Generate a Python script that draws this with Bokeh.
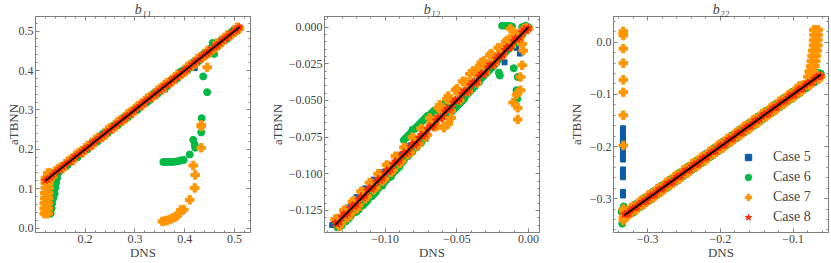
from bokeh.plotting import figure
from bokeh.layouts import row
from bokeh.models import (Range1d, LinearAxis, SingleIntervalTicker, CustomJSTickFormatter,
                          Legend, LegendItem)
from bokeh.embed import file_html
from bokeh.resources import INLINE

# ---------------- data: b11 ----------------
b11_dns = [0.120, 0.130, 0.140, 0.150, 0.160, 0.170, 0.180, 0.190, 0.200, 0.210, 0.220, 0.230, 0.240, 0.250,
           0.260, 0.270, 0.280, 0.290, 0.300, 0.310, 0.320, 0.330, 0.340, 0.350, 0.360, 0.370, 0.380, 0.390,
           0.400, 0.410, 0.420, 0.430, 0.440, 0.450, 0.460, 0.470, 0.480, 0.490, 0.500, 0.510]
b11_c8 = [0.121, 0.129, 0.141, 0.150, 0.161, 0.169, 0.181, 0.190, 0.201, 0.209, 0.221, 0.230, 0.241, 0.249,
          0.261, 0.270, 0.281, 0.289, 0.301, 0.310, 0.321, 0.329, 0.341, 0.350, 0.361, 0.369, 0.381, 0.390,
          0.401, 0.409, 0.421, 0.430, 0.441, 0.449, 0.461, 0.470, 0.481, 0.489, 0.501, 0.510]
b11_c6 = [0.118, 0.124, 0.137, 0.146, 0.155, 0.168, 0.178, 0.192, 0.198, 0.212, 0.217, 0.233, 0.244, 0.247,
          0.262, 0.267, 0.283, 0.287, 0.297, 0.307, 0.317, 0.325, 0.344, 0.346, 0.354, 0.373, 0.377, 0.396,
          0.404, 0.407, 0.424, 0.426, 0.445, 0.455, 0.468, 0.474, 0.478, 0.494, 0.505, 0.508]
b11_c7 = [0.124, 0.136, 0.145, 0.154, 0.163, 0.172, 0.185, 0.193, 0.204, 0.207, 0.225, 0.228, 0.236, 0.254,
          0.257, 0.274, 0.277, 0.294, 0.304, 0.313, 0.324, 0.334, 0.337, 0.354, 0.365, 0.367, 0.384, 0.387,
          0.396, 0.414, 0.417, 0.434, 0.437, 0.446, 0.457, 0.466, 0.484, 0.487, 0.497, 0.506]
b11_dns_mid = [0.125, 0.135, 0.145, 0.155, 0.165, 0.175, 0.185, 0.195, 0.205, 0.215, 0.225, 0.235, 0.245,
               0.255, 0.265, 0.275, 0.285, 0.295, 0.305, 0.315, 0.325, 0.335, 0.345, 0.355, 0.365, 0.375,
               0.385, 0.395, 0.405, 0.415, 0.425, 0.435, 0.445, 0.455, 0.465, 0.475, 0.485, 0.495, 0.505]
b11_c8_mid = [0.124, 0.136, 0.144, 0.156, 0.164, 0.176, 0.184, 0.196, 0.204, 0.216, 0.224, 0.236, 0.244,
              0.256, 0.264, 0.276, 0.284, 0.296, 0.304, 0.316, 0.324, 0.336, 0.344, 0.356, 0.364, 0.376,
              0.384, 0.396, 0.404, 0.416, 0.424, 0.436, 0.444, 0.456, 0.464, 0.476, 0.484, 0.496, 0.504]
b11_c7_mid = [0.130, 0.131, 0.150, 0.151, 0.170, 0.171, 0.190, 0.191, 0.210, 0.211, 0.230, 0.231, 0.250,
              0.251, 0.270, 0.271, 0.290, 0.291, 0.310, 0.311, 0.330, 0.331, 0.350, 0.351, 0.370, 0.371,
              0.390, 0.391, 0.410, 0.411, 0.430, 0.431, 0.450, 0.451, 0.470, 0.471, 0.490, 0.491, 0.510]
b11_c6_mid = [0.120, 0.139, 0.140, 0.159, 0.160, 0.179, 0.180, 0.199, 0.200, 0.219, 0.220, 0.239, 0.240,
              0.259, 0.260, 0.279, 0.280, 0.299, 0.300, 0.319, 0.320, 0.339, 0.340, 0.359, 0.360, 0.379,
              0.380, 0.399, 0.400, 0.419, 0.420, 0.439, 0.440, 0.459, 0.460, 0.479, 0.480, 0.499, 0.500]
b11_c5_dns = [0.12, 0.14, 0.16, 0.18, 0.20, 0.22, 0.24, 0.26, 0.28, 0.30, 0.32, 0.34, 0.36, 0.38, 0.40,
              0.42, 0.44, 0.46, 0.48, 0.50]
b11_c5 = [0.125, 0.140, 0.157, 0.178, 0.197, 0.218, 0.236, 0.257, 0.276, 0.297, 0.316, 0.335, 0.352, 0.374,
          0.395, 0.406, 0.436, 0.456, 0.476, 0.497]
b11_c6_extra_dns = [0.131, 0.133, 0.134, 0.136, 0.138, 0.140, 0.142, 0.144, 0.147, 0.150, 0.139,
                    0.357, 0.362, 0.367, 0.372, 0.377, 0.382, 0.387, 0.392, 0.398,
                    0.410, 0.417, 0.420, 0.421, 0.433, 0.434, 0.437, 0.445, 0.456, 0.459]
b11_c6_extra = [0.037, 0.050, 0.063, 0.076, 0.089, 0.102, 0.115, 0.128, 0.141, 0.154, 0.087,
                0.168, 0.168, 0.168, 0.168, 0.168, 0.169, 0.170, 0.172, 0.173,
                0.187, 0.224, 0.212, 0.204, 0.243, 0.279, 0.385, 0.345, 0.470, 0.442]
b11_c7_extra_dns = [0.118, 0.122, 0.126, 0.118, 0.122, 0.126, 0.118, 0.122, 0.126, 0.119, 0.123, 0.127,
                    0.119, 0.123, 0.127, 0.120, 0.124, 0.128, 0.120, 0.124, 0.128, 0.121, 0.125, 0.129,
                    0.125, 0.129,
                    0.355, 0.360, 0.365, 0.370, 0.375, 0.380, 0.385, 0.389, 0.392, 0.398, 0.410, 0.420,
                    0.421, 0.417, 0.433, 0.433, 0.433, 0.445]
b11_c7_extra = [0.037, 0.037, 0.037, 0.050, 0.050, 0.050, 0.063, 0.063, 0.063, 0.076, 0.076, 0.076,
                0.089, 0.089, 0.089, 0.102, 0.102, 0.102, 0.115, 0.115, 0.115, 0.128, 0.128, 0.128,
                0.140, 0.140,
                0.017, 0.018, 0.020, 0.022, 0.025, 0.028, 0.032, 0.038, 0.046, 0.047, 0.072, 0.102,
                0.135, 0.159, 0.204, 0.258, 0.262, 0.408]

# ---------------- data: b12 ----------------
b12_dns = [-0.135, -0.132, -0.129, -0.126, -0.123, -0.120, -0.117, -0.114, -0.111, -0.108,
           -0.105, -0.102, -0.099, -0.096, -0.093, -0.090, -0.087, -0.084, -0.081, -0.078,
           -0.075, -0.072, -0.069, -0.066, -0.063, -0.060, -0.057, -0.054, -0.051, -0.048,
           -0.045, -0.042, -0.039, -0.036, -0.033, -0.030, -0.027, -0.024, -0.021, -0.018,
           -0.015, -0.012, -0.009, -0.006, -0.003, 0.000]
b12_c8 = [-0.1335, -0.133, -0.1275, -0.127, -0.1215, -0.121, -0.1155, -0.115, -0.1095, -0.109,
          -0.1035, -0.103, -0.0975, -0.097, -0.0915, -0.091, -0.0855, -0.085, -0.0795, -0.079,
          -0.0735, -0.073, -0.0675, -0.067, -0.0615, -0.061, -0.0555, -0.055, -0.0495, -0.049,
          -0.0435, -0.043, -0.0375, -0.037, -0.0315, -0.031, -0.0255, -0.025, -0.0195, -0.019,
          -0.0135, -0.013, -0.0075, -0.007, -0.0015, -0.0005]
b12_c7 = [-0.131, -0.136, -0.125, -0.130, -0.119, -0.124, -0.112, -0.117, -0.106, -0.111,
          -0.100, -0.105, -0.094, -0.099, -0.088, -0.093, -0.082, -0.087, -0.075, -0.081,
          -0.069, -0.075, -0.062, -0.068, -0.055, -0.062, -0.049, -0.057, -0.043, -0.050,
          -0.037, -0.044, -0.030, -0.038, -0.024, -0.031, -0.019, -0.025, -0.014, -0.019,
          -0.009, -0.013, -0.005, -0.007, -0.001, -0.001]
b12_c6 = [-0.132, -0.135, -0.130, -0.131, -0.127, -0.126, -0.122, -0.120, -0.116, -0.114,
          -0.110, -0.108, -0.104, -0.102, -0.098, -0.095, -0.091, -0.088, -0.070, -0.068,
          -0.065, -0.062, -0.060, -0.057, -0.055, -0.053, -0.051, -0.058, -0.055, -0.052,
          -0.049, -0.045, -0.042, -0.038, -0.035, -0.032, -0.029, -0.026, -0.022, -0.019,
          -0.016, -0.013, -0.009, -0.006, -0.003, 0.000]
b12_dns_mid = [-0.1335, -0.1305, -0.1275, -0.1245, -0.1215, -0.1185, -0.1155, -0.1125, -0.1095, -0.1065,
               -0.1035, -0.1005, -0.0975, -0.0945, -0.0915, -0.0885, -0.0855, -0.0825, -0.0795, -0.0765,
               -0.0735, -0.0705, -0.0675, -0.0645, -0.0615, -0.0585, -0.0555, -0.0525, -0.0495, -0.0465,
               -0.0435, -0.0405, -0.0375, -0.0345, -0.0315, -0.0285, -0.0255, -0.0225, -0.0195, -0.0165,
               -0.0135, -0.0105, -0.0075, -0.0045, -0.0015]
b12_c8_mid = [-0.1345, -0.1295, -0.1285, -0.1235, -0.1225, -0.1175, -0.1165, -0.1115, -0.1105, -0.1055,
              -0.1045, -0.0995, -0.0985, -0.0935, -0.0925, -0.0875, -0.0865, -0.0815, -0.0805, -0.0755,
              -0.0745, -0.0695, -0.0685, -0.0635, -0.0625, -0.0575, -0.0565, -0.0515, -0.0505, -0.0455,
              -0.0445, -0.0395, -0.0385, -0.0335, -0.0325, -0.0275, -0.0265, -0.0215, -0.0205, -0.0155,
              -0.0145, -0.0095, -0.0085, -0.0035, -0.0025]
b12_c7_mid = [-0.1305, -0.1335, -0.1245, -0.1275, -0.1185, -0.1215, -0.1125, -0.1155, -0.1065, -0.1095,
              -0.1005, -0.1035, -0.0945, -0.0975, -0.0885, -0.0915, -0.0825, -0.0855, -0.0765, -0.0795,
              -0.0705, -0.0735, -0.0645, -0.0625, -0.0555, -0.0565, -0.0495, -0.0505, -0.0435, -0.0445,
              -0.0375, -0.0385, -0.0315, -0.0325, -0.0255, -0.0265, -0.0195, -0.0205, -0.0145, -0.0145,
              -0.0095, -0.0095, -0.0045, -0.0035, -0.0005]
b12_c6_mid = [-0.1365, -0.1355, -0.1325, -0.1295, -0.1265, -0.1245, -0.1215, -0.1185, -0.1155, -0.1125,
              -0.1085, -0.1055, -0.1025, -0.0995, -0.0965, -0.0925, -0.0755, -0.0725, -0.0695, -0.0665,
              -0.0635, -0.0605, -0.0585, -0.0565, -0.0545, -0.0525, -0.0595, -0.0565, -0.0535, -0.0505,
              -0.0465, -0.0435, -0.0405, -0.0375, -0.0335, -0.0305, -0.0275, -0.0245, -0.0205, -0.0175,
              -0.0145, -0.0115, -0.0085, -0.0055, -0.0015]
b12_c5_dns = [-0.137, -0.132, -0.126, -0.120, -0.114, -0.108, -0.102, -0.096, -0.090, -0.084, -0.078,
              -0.072, -0.066, -0.060, -0.054, -0.048, -0.042, -0.036, -0.030, -0.024, -0.0167, -0.0084,
              -0.006, 0.000]
b12_c5 = [-0.135, -0.130, -0.123, -0.116, -0.110, -0.104, -0.099, -0.094, -0.087, -0.081, -0.077,
          -0.071, -0.065, -0.059, -0.053, -0.047, -0.041, -0.035, -0.029, -0.023, -0.024, -0.014,
          -0.018, -0.001]
b12_c6_extra_dns = [-0.087, -0.084, -0.081, -0.078, -0.075, -0.072,
                    -0.0184, -0.016, -0.0135, -0.0114, -0.0044, -0.002, -0.001,
                    -0.0103, -0.0075, -0.0084, -0.0079, -0.0207, -0.020]
b12_c6_extra = [-0.077, -0.074, -0.085, -0.082, -0.079, -0.076,
                0.001, 0.001, 0.001, 0.0005, 0.000, 0.001, 0.000,
                -0.028, -0.034, -0.043, -0.049, -0.031, -0.033]
b12_c7_extra_dns = [-0.062, -0.056, -0.050, -0.046, -0.041, -0.036, -0.031, -0.026, -0.021, -0.016, -0.011,
                    -0.0126, -0.0044, -0.0037, -0.0044, -0.0056, -0.0056, -0.0084, -0.0107, -0.0075, -0.0075,
                    -0.068, -0.0637, -0.059, -0.054, -0.056]
b12_c7_extra = [-0.053, -0.047, -0.042, -0.037, -0.032, -0.028, -0.023, -0.018, -0.014, -0.010, -0.006,
                -0.001, -0.0114, -0.016, -0.026, -0.034, -0.043, -0.046, -0.0514, -0.055, -0.063,
                -0.065, -0.0674, -0.0686, -0.062, -0.066]

# ---------------- data: b22 ----------------
b22_dns = [-0.332, -0.326, -0.320, -0.314, -0.308, -0.302, -0.296, -0.290, -0.284, -0.278,
           -0.272, -0.266, -0.260, -0.254, -0.248, -0.242, -0.236, -0.230, -0.224, -0.218,
           -0.212, -0.206, -0.200, -0.194, -0.188, -0.182, -0.176, -0.170, -0.164, -0.158,
           -0.152, -0.146, -0.140, -0.134, -0.128, -0.122, -0.116, -0.110, -0.104, -0.098,
           -0.092, -0.086, -0.080, -0.074, -0.068, -0.062]
b22_c8 = [-0.330, -0.328, -0.318, -0.316, -0.306, -0.304, -0.294, -0.292, -0.282, -0.280,
          -0.270, -0.268, -0.258, -0.256, -0.246, -0.244, -0.234, -0.232, -0.222, -0.220,
          -0.210, -0.208, -0.198, -0.196, -0.186, -0.184, -0.174, -0.172, -0.162, -0.160,
          -0.150, -0.148, -0.138, -0.136, -0.126, -0.124, -0.114, -0.112, -0.102, -0.100,
          -0.090, -0.088, -0.078, -0.076, -0.066, -0.064]
b22_c7 = [-0.327, -0.331, -0.315, -0.319, -0.303, -0.307, -0.291, -0.295, -0.279, -0.283,
          -0.267, -0.271, -0.255, -0.259, -0.243, -0.247, -0.231, -0.235, -0.219, -0.223,
          -0.207, -0.211, -0.195, -0.199, -0.183, -0.187, -0.171, -0.175, -0.159, -0.163,
          -0.147, -0.151, -0.135, -0.139, -0.123, -0.127, -0.111, -0.115, -0.099, -0.103,
          -0.084, -0.082, -0.076, -0.072, -0.063, -0.066]
b22_c6 = [-0.338, -0.321, -0.327, -0.309, -0.314, -0.297, -0.302, -0.285, -0.290, -0.273,
          -0.278, -0.261, -0.266, -0.250, -0.254, -0.238, -0.242, -0.226, -0.230, -0.214,
          -0.218, -0.202, -0.206, -0.190, -0.194, -0.178, -0.182, -0.166, -0.170, -0.154,
          -0.158, -0.142, -0.146, -0.130, -0.134, -0.118, -0.122, -0.106, -0.110, -0.094,
          -0.098, -0.082, -0.086, -0.070, -0.074, -0.060]
b22_dns_mid = [-0.329, -0.323, -0.317, -0.311, -0.305, -0.299, -0.293, -0.287, -0.281, -0.275,
               -0.269, -0.263, -0.257, -0.251, -0.245, -0.239, -0.233, -0.227, -0.221, -0.215,
               -0.209, -0.203, -0.197, -0.191, -0.185, -0.179, -0.173, -0.167, -0.161, -0.155,
               -0.149, -0.143, -0.137, -0.131, -0.125, -0.119, -0.113, -0.107, -0.101, -0.095,
               -0.089, -0.083, -0.077, -0.071, -0.065]
b22_c8_mid = [-0.330, -0.322, -0.318, -0.310, -0.306, -0.298, -0.294, -0.286, -0.282, -0.274,
              -0.270, -0.262, -0.258, -0.250, -0.246, -0.238, -0.234, -0.226, -0.222, -0.214,
              -0.210, -0.202, -0.198, -0.190, -0.186, -0.178, -0.174, -0.166, -0.162, -0.154,
              -0.150, -0.142, -0.138, -0.130, -0.126, -0.118, -0.114, -0.106, -0.102, -0.094,
              -0.090, -0.082, -0.078, -0.070, -0.066]
b22_c7_mid = [-0.335, -0.317, -0.323, -0.305, -0.311, -0.293, -0.299, -0.281, -0.287, -0.269,
              -0.275, -0.257, -0.263, -0.245, -0.251, -0.233, -0.239, -0.221, -0.227, -0.209,
              -0.215, -0.197, -0.203, -0.185, -0.191, -0.173, -0.179, -0.161, -0.167, -0.149,
              -0.155, -0.137, -0.143, -0.125, -0.131, -0.113, -0.119, -0.101, -0.107, -0.089,
              -0.095, -0.083, -0.083, -0.071, -0.071]
b22_c6_mid = [-0.323, -0.329, -0.311, -0.317, -0.299, -0.305, -0.287, -0.293, -0.275, -0.281,
              -0.263, -0.269, -0.251, -0.257, -0.239, -0.245, -0.227, -0.233, -0.215, -0.221,
              -0.203, -0.209, -0.191, -0.197, -0.179, -0.185, -0.167, -0.173, -0.155, -0.161,
              -0.143, -0.149, -0.131, -0.137, -0.119, -0.125, -0.107, -0.113, -0.095, -0.101,
              -0.083, -0.089, -0.071, -0.077, -0.059]
b22_c5_dns = [-0.332, -0.320, -0.308, -0.296, -0.284, -0.272, -0.260, -0.248, -0.236, -0.224, -0.212,
              -0.200, -0.188, -0.176, -0.164, -0.152, -0.140, -0.128, -0.116, -0.104, -0.092, -0.080,
              -0.068]
b22_c5 = [-0.333, -0.321, -0.309, -0.297, -0.285, -0.273, -0.261, -0.249, -0.237, -0.225, -0.213,
          -0.201, -0.185, -0.177, -0.165, -0.153, -0.141, -0.129, -0.117, -0.105, -0.093, -0.081,
          -0.069]
b22_c5_extra_dns = [-0.334, -0.334, -0.334, -0.334, -0.334, -0.334, -0.334, -0.334, -0.334, -0.334,
                    -0.334, -0.334, -0.334, -0.334, -0.334, -0.334, -0.334, -0.334, -0.334]
b22_c5_extra = [-0.165, -0.170, -0.175, -0.180, -0.185, -0.190, -0.195, -0.200, -0.205, -0.210,
                -0.215, -0.220, -0.225, -0.244, -0.249, -0.254, -0.259, -0.287, -0.294]
b22_c6_extra_dns = [-0.335, -0.333, -0.336]
b22_c6_extra = [-0.348, -0.315, -0.325]
b22_c7_extra_dns = [-0.3335, -0.3335, -0.3335, -0.3335, -0.3335, -0.3335, -0.3335, -0.3335, -0.3335,
                    -0.3335, -0.3335, -0.3335,
                    -0.0715, -0.0685, -0.0655, -0.0715, -0.0685, -0.0655, -0.072, -0.069, -0.066,
                    -0.072, -0.069, -0.066, -0.073, -0.070, -0.067, -0.074, -0.071, -0.068,
                    -0.075, -0.072, -0.069, -0.076, -0.073, -0.070, -0.078, -0.075, -0.072,
                    -0.080, -0.077]
b22_c7_extra = [0.013, 0.017, 0.021, -0.012, -0.040, -0.072, -0.096, -0.140, -0.198, -0.320, -0.336, -0.342,
                0.024, 0.024, 0.024, 0.014, 0.014, 0.014, 0.004, 0.004, 0.004,
                -0.006, -0.006, -0.006, -0.016, -0.016, -0.016, -0.026, -0.026, -0.026,
                -0.036, -0.036, -0.036, -0.046, -0.046, -0.046, -0.056, -0.056, -0.056,
                -0.066, -0.066]

case_labels = ["Case 5", "Case 6", "Case 7", "Case 8"]

# ---------------- styling ----------------
FONT = "Liberation Serif"
TXT = "#444444"
FRAME = "#808080"
C5, C6, C7, C8 = "#0C5DA5", "#00B945", "#FF9500", "#FF2C00"
H = 262


def fmt(n):
    return CustomJSTickFormatter(code=(
        "var s = tick.toFixed(%d); if (Math.abs(parseFloat(s)) === 0) { s = (0).toFixed(%d); }"
        " return s.replace('-', '\u2212');" % (n, n)))


def style_axis(ax, interval, minor, n, labels=True):
    ax.ticker = SingleIntervalTicker(interval=interval, num_minor_ticks=minor)
    ax.formatter = fmt(n) if labels else CustomJSTickFormatter(code="return '';")
    ax.axis_line_color = FRAME
    ax.major_tick_line_color = FRAME
    ax.minor_tick_line_color = FRAME
    ax.major_tick_in = 4
    ax.major_tick_out = 0
    ax.minor_tick_in = 2
    ax.minor_tick_out = 0
    ax.major_label_standoff = 2 if labels else 0
    ax.major_label_text_font = FONT
    ax.major_label_text_font_size = "12px" if labels else "0px"
    ax.major_label_text_color = TXT
    ax.axis_label_text_font = FONT
    ax.axis_label_text_font_size = "13px"
    ax.axis_label_text_font_style = "normal"
    ax.axis_label_text_color = TXT


def make_panel(title, xr, yr, width, bl, br, xint, xminor, xdec, yint, yminor, ydec, ylab_standoff,
               dns, dns_mid, c5x, c5y, c6y, c6m, c6ex, c6ey, c7y, c7m, c7ex, c7ey, c8y, c8m):
    p = figure(width=width, height=H, x_range=Range1d(*xr), y_range=Range1d(*yr),
               output_backend="svg", toolbar_location=None, title=title,
               min_border_left=bl, min_border_right=br, min_border_top=16, min_border_bottom=30)
    p.title.align = "center"
    p.title.vertical_align = "top"
    p.title.text_font = FONT
    p.title.text_font_style = "italic"
    p.title.text_font_size = "14px"
    p.title.text_color = TXT
    p.title.standoff = -4
    p.xgrid.visible = False
    p.ygrid.visible = False
    p.outline_line_color = FRAME
    style_axis(p.xaxis[0], xint, xminor, xdec)
    style_axis(p.yaxis[0], yint, yminor, ydec)
    p.xaxis[0].axis_label = "DNS"
    p.xaxis[0].axis_label_standoff = -1
    p.yaxis[0].axis_label = "aTBNN"
    p.yaxis[0].axis_label_standoff = ylab_standoff
    top = LinearAxis()
    style_axis(top, xint, xminor, xdec, labels=False)
    p.add_layout(top, "above")
    right = LinearAxis()
    style_axis(right, yint, yminor, ydec, labels=False)
    p.add_layout(right, "right")

    r5 = p.scatter(c5x, c5y, marker="square", size=5, color=C5)
    r6 = p.scatter(dns + dns_mid + c6ex, c6y + c6m + c6ey, marker="circle", size=7, color=C6)
    r7 = p.scatter(dns + dns_mid + c7ex, c7y + c7m + c7ey, marker="plus", size=8.5, color=C7)
    r8 = p.scatter(dns + dns_mid, c8y + c8m, marker="star", size=8, color=C8)
    lo, hi = min(dns), max(dns)
    p.line([lo, hi], [lo, hi], line_color="black", line_width=1.8)
    return p, [r5, r6, r7, r8]


p1, _ = make_panel("b\u2081\u2081", (0.1005, 0.532), (-0.011, 0.537), 262, 35, 12,
                   0.1, 5, 1, 0.1, 5, 1, -5,
                   b11_dns, b11_dns_mid, b11_c5_dns, b11_c5, b11_c6, b11_c6_mid, b11_c6_extra_dns, b11_c6_extra,
                   b11_c7, b11_c7_mid, b11_c7_extra_dns, b11_c7_extra, b11_c8, b11_c8_mid)
p2, _ = make_panel("b\u2081\u2082", (-0.1424, 0.0077), (-0.1401, 0.0073), 287, 62, 10,
                   0.05, 5, 2, 0.025, 5, 3, 1,
                   b12_dns, b12_dns_mid, b12_c5_dns, b12_c5, b12_c6, b12_c6_mid, b12_c6_extra_dns, b12_c6_extra,
                   b12_c7, b12_c7_mid, b12_c7_extra_dns, b12_c7_extra, b12_c8, b12_c8_mid)
p3, rs = make_panel("b\u2082\u2082", (-0.347, -0.0514), (-0.365, 0.0495), 282, 64, 3,
                    0.1, 5, 1, 0.1, 5, 1, 3,
                    b22_dns, b22_dns_mid, b22_c5_dns + b22_c5_extra_dns, b22_c5 + b22_c5_extra,
                    b22_c6, b22_c6_mid, b22_c6_extra_dns, b22_c6_extra,
                    b22_c7, b22_c7_mid, b22_c7_extra_dns, b22_c7_extra, b22_c8, b22_c8_mid)

legend = Legend(items=[LegendItem(label=lab, renderers=[r]) for lab, r in zip(case_labels, rs)],
                location=(125, 7), orientation="vertical", padding=5, margin=0, spacing=4,
                glyph_width=20, glyph_height=16, label_height=16, label_standoff=15,
                label_text_font=FONT, label_text_font_size="14px", label_text_color=TXT,
                label_text_baseline="middle", border_line_color=None, background_fill_alpha=0)
p3.add_layout(legend)

layout = row(p1, p2, p3)
open("out.html", "w").write(file_html(layout, INLINE))
